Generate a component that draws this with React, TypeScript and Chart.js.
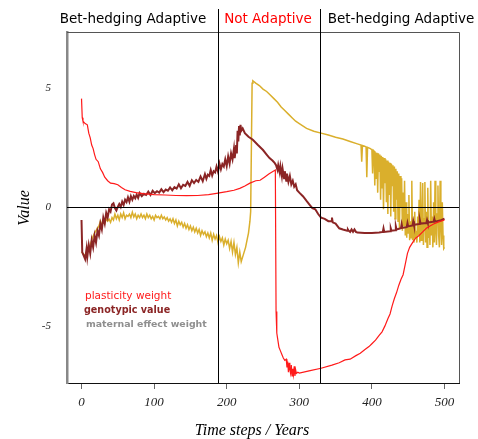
import React, { useEffect, useRef } from "react";
import { Chart, registerables } from "chart.js";

Chart.register(...registerables);

// ---------- data ----------
const xTicks = [0, 100, 200, 300, 400, 500];
const yTicks = [-5, 0, 5];
const regimeBreaks = [188, 329];
const regimeLabels = ["Bet-hedging Adaptive", "Not Adaptive", "Bet-hedging Adaptive"];
const legendLabels = ["plasticity weight", "genotypic value", "maternal effect weight"];

// plasticity weight
const plastT = [0, 1, 2, 5, 8, 10, 12, 14, 16, 18, 20, 23, 26, 29, 32, 36, 40, 45, 50, 55, 60, 67, 75, 85, 100, 115, 130, 145, 160, 175, 186, 200, 210, 218, 225, 232, 240, 246, 252, 258, 263, 267,
  268, 269, 270, 272, 274, 276, 278, 280, 282, 283, 284, 285, 286, 287, 288, 289, 290, 291, 292, 293, 294, 295, 296, 298, 300, 315, 330, 345, 355, 363, 370, 378, 384, 390, 396, 400, 405, 410, 414, 418, 422, 425, 428, 431, 434, 437, 440, 443, 446, 449, 452, 456, 460, 465, 470, 475, 480, 485, 490, 495, 500];
const plastV = [4.55, 3.75, 3.6, 3.5, 3.45, 3.1, 2.9, 2.6, 2.45, 2.2, 2.0, 1.9, 1.6, 1.45, 1.25, 1.1, 1.0, 0.98, 0.93, 0.82, 0.72, 0.65, 0.6, 0.56, 0.52, 0.5, 0.48, 0.47, 0.48, 0.52, 0.57, 0.64, 0.7, 0.78, 0.88, 1.0, 1.1, 1.12, 1.25, 1.38, 1.48, 1.55,
  -4.4, -5.3, -5.5, -5.9, -6.05, -6.2, -6.35, -6.45, -6.4, -6.75, -6.5, -6.95, -6.55, -6.85, -7.0, -6.65, -7.1, -6.8, -7.05, -6.7, -7.1, -6.85, -7.0, -6.95, -6.98, -6.88, -6.78, -6.65, -6.55, -6.43, -6.4, -6.25, -6.15, -6.0, -5.87, -5.75, -5.6, -5.4, -5.25, -5.0, -4.7, -4.5, -4.15, -3.85, -3.6, -3.3, -3.05, -2.85, -2.4, -1.95, -1.7, -1.5, -1.32, -1.2, -1.05, -0.9, -0.8, -0.72, -0.65, -0.6, -0.55];

// genotypic value
const genoT = [0, 1, 3, 5, 7, 8, 10, 12, 14, 16, 18, 20, 22, 24, 26, 28, 30, 32, 34, 36, 38, 40, 42, 44, 46, 48, 50, 52, 54, 56, 58, 60, 62, 64, 66, 68, 70, 72, 74, 76, 78, 80, 83, 86, 89, 92, 95, 98, 101, 104, 107, 110, 113, 116, 119, 122, 125, 128, 131, 134, 137, 140, 143, 146, 149, 152, 155, 158, 161, 164, 167, 170, 172, 174, 176, 178, 180, 182, 184, 186, 188, 190, 192, 194, 196, 198, 200, 202, 204, 206, 208, 210, 211, 213, 214, 215, 216, 217, 218, 219, 220, 222, 225, 230, 236, 243, 250, 255, 259, 263, 266, 268,
  270, 271, 273, 274, 276, 277, 279, 280, 282, 283, 285, 287, 289, 291, 293, 295, 297, 300, 305, 310, 314, 318, 322, 326, 330, 335, 340, 344, 345, 346, 350, 355, 360, 366, 367, 368, 370, 372, 374, 376, 378, 380, 390, 400, 410, 415, 416, 417, 425, 426, 427, 432, 433, 434, 440, 441, 442, 448, 449, 450, 456, 457, 458, 465, 466, 467, 475, 476, 477, 485, 486, 487, 495, 500];
const genoV = [-0.55, -1.9, -2.05, -2.2, -1.75, -2.1, -1.6, -1.95, -1.4, -1.7, -1.2, -1.5, -1.0, -1.2, -0.7, -0.95, -0.45, -0.7, -0.25, -0.45, -0.1, -0.2, 0.1, 0.15, -0.05, -0.15, 0.0, 0.12, 0.0, 0.22, 0.08, 0.3, 0.2, 0.4, 0.22, 0.45, 0.3, 0.46, 0.36, 0.52, 0.38, 0.58, 0.45, 0.55, 0.5, 0.64, 0.5, 0.68, 0.58, 0.66, 0.6, 0.74, 0.62, 0.73, 0.68, 0.82, 0.7, 0.83, 0.77, 0.95, 0.78, 0.93, 0.88, 1.05, 0.88, 1.12, 1.0, 1.13, 1.05, 1.28, 1.08, 1.38, 1.18, 1.35, 1.3, 1.55, 1.32, 1.5, 1.45, 1.7, 1.48, 1.82, 1.58, 1.8, 1.7, 2.0, 1.72, 2.12, 1.82, 2.25, 2.0, 2.45, 2.05, 2.6, 2.25, 3.2, 2.75, 3.4, 3.0, 3.45, 3.2, 3.3, 3.1, 2.95, 2.82, 2.6, 2.39, 2.2, 2.05, 1.95, 1.85, 1.75,
  1.55, 1.75, 1.45, 1.7, 1.3, 1.6, 1.2, 1.5, 1.1, 1.4, 1.05, 1.3, 0.95, 1.1, 0.85, 0.95, 0.7, 0.6, 0.45, 0.25, 0.1, -0.05, -0.1, -0.3, -0.45, -0.5, -0.6, -0.6, -0.45, -0.65, -0.7, -0.9, -0.95, -1.0, -0.95, -1.0, -1.05, -0.95, -1.05, -0.95, -1.05, -1.08, -1.1, -1.1, -1.08, -1.05, -0.9, -1.05, -1.02, -0.9, -1.0, -0.98, -0.82, -0.95, -0.9, -0.72, -0.88, -0.85, -0.68, -0.82, -0.78, -0.6, -0.75, -0.72, -0.55, -0.7, -0.68, -0.55, -0.66, -0.62, -0.5, -0.62, -0.56, -0.5];

// maternal effect weight
const materT = [0, 3, 6, 9, 12, 15, 18, 21, 24, 26, 28, 30, 32, 34, 36, 38, 40, 42, 44, 46, 48, 50, 52, 54, 56, 58, 60, 62, 64, 66, 68, 70, 72, 74, 76, 78, 80, 82, 84, 86, 88, 90, 92, 94, 96, 98, 100, 102, 104, 106, 108, 110, 112, 114, 116, 118, 120, 122, 124, 126, 128, 130, 132, 134, 136, 138, 140, 142, 144, 146, 148, 150, 152, 154, 156, 158, 160, 162, 164, 166, 168, 170, 172, 174, 176, 178, 180, 182, 184, 186, 188, 190, 192, 194, 196, 198, 200, 202, 204, 206, 208, 210, 212, 214, 216, 218, 220, 222, 224, 226, 228, 230, 232, 233,
  235, 236, 240, 245, 250, 255, 260, 265, 270, 275, 280, 285, 290, 295, 300, 310, 320, 330, 340, 350, 360, 370, 380, 385, 386, 387, 390, 392, 393, 394, 398,
  400, 401, 402, 403, 404, 405, 406, 407, 408, 409, 410, 411, 412, 413, 414, 415, 416, 417, 418, 419, 420, 421, 422, 423, 424, 425, 426, 427, 428, 429, 430, 431, 432, 433, 434, 435, 436, 437, 438, 439, 440, 441, 442, 443, 444, 445, 446, 447, 448, 449, 450, 451, 452, 453, 454, 455, 456, 457, 458, 459, 460, 461, 462, 463, 464, 465, 466, 467, 468, 469, 470, 471, 472, 473, 474, 475, 476, 477, 478, 479, 480, 481, 482, 483, 484, 485, 486, 487, 488, 489, 490, 491, 492, 493, 494, 495, 496, 497, 498, 499, 500];
const materV = [-1.9, -2.0, -2.05, -1.8, -1.6, -1.3, -1.1, -0.95, -0.8, -0.6, -0.75, -0.65, -0.7, -0.5, -0.6, -0.52, -0.65, -0.45, -0.55, -0.3, -0.5, -0.35, -0.55, -0.3, -0.45, -0.25, -0.5, -0.35, -0.4, -0.3, -0.45, -0.22, -0.42, -0.3, -0.5, -0.35, -0.45, -0.3, -0.45, -0.35, -0.5, -0.3, -0.45, -0.35, -0.5, -0.4, -0.55, -0.35, -0.45, -0.4, -0.5, -0.35, -0.5, -0.42, -0.55, -0.45, -0.6, -0.5, -0.65, -0.5, -0.7, -0.55, -0.8, -0.6, -0.75, -0.65, -0.85, -0.7, -0.9, -0.75, -0.95, -0.8, -1.0, -0.85, -1.05, -0.9, -1.1, -0.95, -1.2, -1.0, -1.15, -1.05, -1.25, -1.1, -1.3, -1.1, -1.4, -1.15, -1.35, -1.2, -1.5, -1.25, -1.45, -1.3, -1.6, -1.35, -1.55, -1.4, -1.75, -1.45, -1.9, -1.5, -2.0, -1.7, -2.35, -1.9, -2.3, -2.1, -1.9, -1.7, -1.4, -1.1, -0.6, -0.2,
  5.2, 5.3, 5.2, 5.1, 4.95, 4.85, 4.7, 4.55, 4.4, 4.2, 4.05, 3.9, 3.75, 3.6, 3.5, 3.3, 3.18, 3.1, 3.02, 2.93, 2.85, 2.75, 2.65, 2.6, 1.9, 2.58, 2.55, 2.52, 1.25, 2.5, 2.45,
  2.4, 1.4, 2.38, 2.35, 0.9, 2.3, 1.2, 2.28, 0.6, 2.25, 1.5, 2.2, 0.3, 2.15, 0.8, 2.1, -0.1, 2.05, 1.0, 2.0, 0.2, 1.95, -0.3, 1.9, 0.5, 1.85, -0.4, 1.8, 0.9, 1.75, -0.2, 1.7, -0.5, 1.6, 0.3, 1.5, -0.6, 1.4, -0.9, 1.3, 0.0, 1.2, -1.0, 0.6, -0.8, 1.1, -1.2, 0.2, -1.3, -0.3, -1.1, 0.5, -1.4, -0.6, -1.3, 1.1, -1.4, -0.8, -1.5, -0.2, -1.3, -1.0, -1.5, -0.4, -1.2, 0.3, -1.5, 1.05, -1.4, -0.9, 1.0, -1.6, -0.5, 1.05, -1.5, -0.2, -1.7, 0.8, -1.3, -0.7, -1.6, 1.1, -1.2, -0.4, -1.7, 0.2, -1.5, 1.1, -1.0, -1.6, -0.3, 0.9, -1.2, -1.7, 1.1, -0.8, -1.6, 0.2, -1.2, -1.75, -1.7];

const COLORS = {
  plast: "#FF1A1A",
  geno: "#8B2525",
  mater: "#DAAF2C",
  legendMater: "#8F8F8F",
};

const toPts = (t: number[], v: number[]) => t.map((x, i) => ({ x, y: v[i] }));

const decorPlugin = {
  id: "decor",
  afterDatasetsDraw(chart: any) {
    const { ctx, chartArea: a, scales } = chart;
    const xs = scales.x;
    const ys = scales.y;
    ctx.save();
    // frame (top / right)
    ctx.strokeStyle = "#555";
    ctx.lineWidth = 1;
    ctx.beginPath();
    ctx.moveTo(a.left, a.top + 0.5);
    ctx.lineTo(a.right + 0.5, a.top + 0.5);
    ctx.lineTo(a.right + 0.5, a.bottom);
    ctx.stroke();
    // zero line
    const y0 = Math.round(ys.getPixelForValue(0)) + 0.5;
    ctx.strokeStyle = "#000";
    ctx.beginPath();
    ctx.moveTo(a.left, y0);
    ctx.lineTo(a.right, y0);
    ctx.stroke();
    // regime breaks
    regimeBreaks.forEach((b) => {
      const px = Math.round(xs.getPixelForValue(b)) + 0.5;
      ctx.beginPath();
      ctx.moveTo(px, 9);
      ctx.lineTo(px, a.bottom);
      ctx.stroke();
    });
    // regime labels
    const centers = [133, 268, 401];
    ctx.font = "13.5px 'DejaVu Sans'";
    ctx.textAlign = "center";
    ctx.textBaseline = "middle";
    regimeLabels.forEach((lab, i) => {
      ctx.fillStyle = i === 1 ? "#FF0000" : "#000";
      ctx.fillText(lab, centers[i], 19);
    });
    // legend text
    ctx.textAlign = "left";
    ctx.font = "10.5px 'DejaVu Sans'";
    ctx.fillStyle = COLORS.plast;
    ctx.fillText(legendLabels[0], 85, 296);
    ctx.font = "bold 9.6px 'DejaVu Sans'";
    ctx.fillStyle = COLORS.geno;
    ctx.fillText(legendLabels[1], 84, 310);
    ctx.font = "bold 9.4px 'DejaVu Sans'";
    ctx.fillStyle = COLORS.legendMater;
    ctx.fillText(legendLabels[2], 86, 325);
    // axis titles
    ctx.fillStyle = "#000";
    ctx.font = "italic 16px 'Liberation Serif'";
    ctx.textAlign = "center";
    ctx.fillText("Time steps / Years", 252, 431);
    ctx.translate(25, 208);
    ctx.rotate(-Math.PI / 2);
    ctx.fillText("Value", 0, 0);
    ctx.restore();
  },
};

export default function App() {
  const ref = useRef<HTMLCanvasElement | null>(null);
  useEffect(() => {
    document.body.style.margin = "0";
    const canvas = ref.current;
    if (!canvas) return;
    const chart = new Chart(canvas, {
      type: "line",
      data: {
        datasets: [
          {
            label: legendLabels[0],
            data: toPts(plastT, plastV),
            borderColor: COLORS.plast,
            borderWidth: 1.2,
            pointRadius: 0,
            tension: 0,
            order: 0,
          },
          {
            label: legendLabels[1],
            data: toPts(genoT, genoV),
            borderColor: COLORS.geno,
            borderWidth: 2,
            pointRadius: 0,
            tension: 0,
            order: 1,
          },
          {
            label: legendLabels[2],
            data: toPts(materT, materV),
            borderColor: COLORS.mater,
            borderWidth: 1.5,
            pointRadius: 0,
            tension: 0,
            order: 2,
          },
        ],
      },
      options: {
        responsive: false,
        animation: false,
        devicePixelRatio: 1,
        layout: { padding: { left: 0, top: 32, right: 19, bottom: 0 } },
        plugins: { legend: { display: false }, tooltip: { enabled: false } },
        scales: {
          x: {
            type: "linear",
            min: -20,
            max: 520,
            afterBuildTicks: (s: any) => {
              s.ticks = xTicks.map((v) => ({ value: v }));
            },
            afterFit: (s: any) => {
              s.height = 56;
            },
            grid: { drawOnChartArea: false, drawTicks: true, tickLength: 6, color: "#666" },
            border: { display: true, color: "#111", width: 1 },
            ticks: {
              autoSkip: false,
              maxRotation: 0,
              padding: 6,
              color: "#222",
              font: { family: "'Liberation Serif'", style: "italic", size: 13 },
            },
          },
          y: {
            type: "linear",
            min: -7.4,
            max: 7.35,
            afterBuildTicks: (s: any) => {
              s.ticks = yTicks.map((v) => ({ value: v }));
            },
            afterFit: (s: any) => {
              s.width = 67;
            },
            grid: { display: false, drawTicks: false },
            border: { display: true, color: "#888", width: 2.5 },
            ticks: {
              padding: 16,
              color: "#222",
              font: { family: "'Liberation Serif'", style: "italic", size: 11 },
            },
          },
        },
      },
      plugins: [decorPlugin],
    });
    return () => chart.destroy();
  }, []);
  return (
    <div style={{ position: "fixed", left: 0, top: 0, width: 478, height: 439, background: "#fff" }}>
      <canvas ref={ref} width={478} height={439} />
    </div>
  );
}
